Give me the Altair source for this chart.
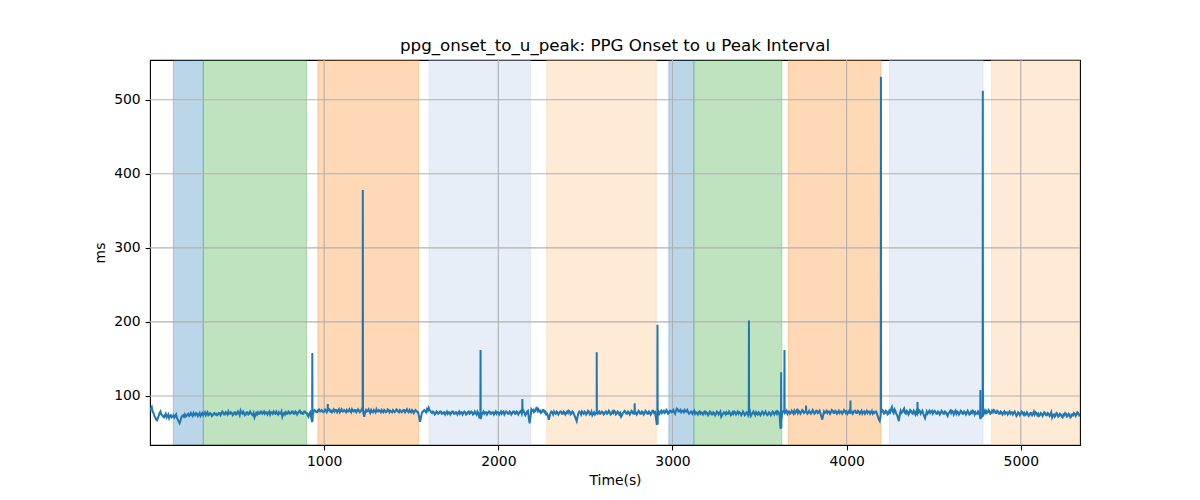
import altair as alt
import pandas as pd

# ---------------- data ----------------
# baseline samples, one every 10 s starting at t = 0 (ms)
base_ms = [
    80, 85, 77, 71, 67, 73, 79, 74, 71, 76, 73, 70, 74, 72, 71, 75, 68, 63, 71, 74,
    75, 73, 76, 74, 75, 77, 74, 76, 75, 73, 77, 76, 74, 78, 75, 76, 74, 77, 76, 75,
    77, 76, 78, 75, 77, 79, 76, 77, 75, 78, 76, 77, 80, 76, 77, 75, 78, 76, 77, 74,
    71, 77, 78, 76, 79, 77, 76, 78, 77, 75, 78, 79, 76, 77, 78, 76, 72, 77, 78, 76,
    78, 77, 79, 76, 78, 77, 80, 78, 76, 79, 77, 72, 78, 66, 79, 80, 78, 82, 79, 80,
    79, 81, 80, 82, 80, 80, 79, 81, 80, 78, 82, 79, 80, 81, 79, 80, 82, 79, 81, 80,
    80, 79, 84, 72, 81, 80, 79, 81, 78, 80, 82, 79, 80, 81, 78, 80, 79, 81, 80, 78,
    80, 79, 81, 78, 80, 79, 81, 80, 79, 81, 78, 80, 79, 80, 78, 65, 76, 79, 80, 82,
    84, 80, 77, 78, 76, 78, 77, 79, 76, 78, 77, 76, 78, 77, 79, 76, 78, 77, 76, 78,
    77, 78, 76, 79, 77, 78, 76, 77, 79, 72, 70, 77, 76, 78, 77, 79, 76, 78, 77, 76,
    78, 77, 76, 79, 77, 78, 76, 78, 77, 79, 76, 78, 77, 80, 78, 77, 76, 80, 63, 82,
    81, 79, 84, 82, 80, 78, 81, 79, 76, 68, 77, 78, 79, 76, 78, 77, 79, 76, 78, 77,
    77, 79, 76, 78, 72, 66, 77, 78, 79, 76, 78, 77, 79, 76, 74, 78, 77, 76, 79, 77,
    78, 76, 79, 77, 78, 76, 77, 79, 76, 78, 77, 74, 78, 79, 76, 78, 77, 79, 76, 78,
    77, 79, 76, 78, 77, 79, 76, 78, 77, 80, 78, 62, 79, 78, 77, 80, 78, 79, 77, 80,
    79, 78, 80, 82, 79, 78, 80, 81, 79, 78, 77, 79, 78, 76, 77, 78, 76, 77, 78, 76,
    77, 76, 78, 75, 77, 76, 78, 77, 72, 76, 77, 78, 76, 77, 75, 76, 78, 77, 76, 77,
    76, 77, 75, 78, 76, 73, 77, 76, 78, 75, 77, 76, 78, 77, 76, 75, 77, 76, 78, 77,
    76, 78, 57, 77, 80, 78, 76, 79, 77, 78, 80, 79, 77, 79, 78, 80, 78, 79, 77, 78,
    78, 79, 77, 80, 78, 76, 68, 79, 78, 77, 79, 78, 80, 77, 79, 78, 77, 79, 78, 80,
    79, 78, 77, 79, 78, 80, 77, 79, 78, 76, 79, 78, 77, 79, 78, 76, 77, 79, 72, 66,
    78, 80, 77, 79, 76, 78, 85, 77, 80, 74, 66, 80, 78, 83, 76, 79, 77, 80, 76, 78,
    79, 77, 80, 78, 76, 70, 79, 78, 77, 80, 78, 79, 76, 78, 77, 79, 76, 78, 73, 78,
    77, 79, 78, 76, 78, 77, 79, 76, 78, 77, 78, 76, 77, 79, 78, 76, 77, 70, 73, 80,
    80, 78, 79, 77, 78, 80, 77, 79, 76, 78, 77, 76, 78, 77, 76, 78, 77, 76, 75, 77,
    76, 78, 77, 75, 76, 74, 77, 76, 75, 77, 76, 74, 76, 75, 77, 74, 76, 75, 71, 75,
    74, 76, 73, 75, 71, 74, 76, 73, 75, 72, 74, 76, 75, 77, 76,
]
# in-between samples, 5 s after each baseline sample (ms)
mid_ms = [
    83, 79, 73, 68, 70, 77, 75, 72, 74, 71, 75, 73, 71, 74, 73, 70, 65, 67, 73, 72,
    72, 75, 73, 77, 73, 75, 77, 73, 77, 75, 74, 78, 76, 74, 77, 73, 76, 75, 74, 77,
    74, 79, 75, 78, 75, 76, 78, 74, 78, 75, 79, 74, 77, 79, 74, 78, 75, 79, 75, 77,
    74, 75, 76, 79, 76, 79, 78, 75, 79, 78, 76, 77, 79, 75, 76, 79, 75, 75, 76, 79,
    76, 79, 76, 79, 75, 79, 77, 76, 79, 77, 74, 76, 72, 75, 81, 78, 81, 79, 81, 78,
    82, 78, 82, 79, 78, 82, 81, 78, 82, 80, 79, 81, 78, 79, 82, 78, 80, 81, 78, 82,
    78, 82, 77, 78, 79, 82, 77, 79, 81, 78, 79, 81, 78, 79, 81, 78, 82, 78, 79, 81,
    78, 82, 79, 81, 78, 81, 78, 82, 78, 79, 81, 77, 81, 78, 72, 70, 79, 81, 78, 80,
    81, 78, 79, 75, 79, 76, 79, 76, 78, 75, 79, 78, 75, 79, 76, 78, 75, 79, 78, 75,
    79, 75, 78, 76, 79, 75, 79, 75, 77, 74, 75, 79, 78, 75, 79, 76, 78, 75, 79, 78,
    75, 79, 78, 75, 79, 76, 79, 75, 79, 76, 79, 75, 79, 76, 80, 74, 79, 70, 72, 80,
    78, 83, 80, 79, 77, 81, 78, 75, 73, 73, 79, 75, 77, 79, 75, 79, 76, 79, 75, 79,
    80, 75, 79, 75, 69, 72, 79, 75, 77, 79, 75, 80, 75, 79, 76, 75, 79, 78, 76, 79,
    75, 79, 76, 80, 75, 79, 80, 75, 79, 75, 72, 77, 80, 76, 79, 75, 80, 76, 79, 75,
    80, 76, 79, 75, 80, 76, 79, 75, 80, 77, 70, 72, 76, 80, 79, 77, 81, 76, 80, 78,
    81, 76, 83, 79, 81, 80, 78, 79, 81, 76, 79, 76, 80, 78, 75, 79, 78, 75, 79, 78,
    74, 79, 75, 78, 74, 79, 75, 79, 74, 78, 75, 76, 79, 74, 78, 79, 75, 79, 78, 74,
    79, 74, 78, 74, 79, 75, 79, 74, 76, 78, 74, 79, 75, 79, 74, 78, 74, 79, 75, 79,
    79, 74, 66, 79, 77, 80, 79, 76, 80, 76, 77, 81, 80, 76, 81, 77, 80, 76, 80, 76,
    81, 76, 80, 77, 80, 72, 74, 77, 80, 79, 76, 81, 77, 80, 76, 80, 79, 76, 81, 77,
    76, 80, 79, 76, 80, 77, 80, 76, 80, 78, 76, 80, 79, 76, 80, 78, 79, 75, 68, 73,
    81, 76, 80, 75, 80, 82, 79, 82, 76, 70, 75, 77, 81, 77, 80, 75, 81, 77, 80, 75,
    76, 81, 76, 80, 73, 75, 76, 80, 79, 76, 80, 76, 79, 75, 80, 76, 79, 75, 77, 80,
    80, 75, 80, 79, 75, 80, 76, 79, 75, 80, 75, 79, 80, 75, 76, 79, 73, 72, 77, 77,
    77, 81, 76, 80, 81, 77, 80, 76, 79, 75, 79, 78, 75, 79, 78, 75, 79, 73, 78, 74,
    79, 75, 74, 78, 73, 77, 74, 79, 78, 74, 73, 77, 73, 78, 74, 77, 73, 78, 74, 72,
    77, 72, 76, 72, 75, 77, 72, 76, 71, 75, 77, 73, 78, 74,
]
base_step_s = 10
mid_offset_s = 5

# isolated spikes (time in s, peak in ms)
spike_t = [932, 1021, 1222, 1898, 2138, 2565, 2783, 2914, 3439, 3624, 3643, 3767, 4022, 4197, 4407, 4768, 4782]
spike_ms = [158, 89, 378, 162, 96, 159, 90, 196, 202, 132, 162, 87, 94, 531, 92, 108, 512]

# shaded condition spans
span_start = [134, 306, 964, 1602, 2278, 2979, 3123, 3666, 4246, 4832]
span_end = [306, 899, 1542, 2184, 2907, 3123, 3628, 4197, 4783, 5340]
span_color = ["#1f77b4", "#2ca02c", "#ff7f0e", "#aec7e8", "#ffbb78",
              "#1f77b4", "#2ca02c", "#ff7f0e", "#aec7e8", "#ffbb78"]
span_alpha = [0.3] * 10

x_ticks = [1000, 2000, 3000, 4000, 5000]
y_ticks = [100, 200, 300, 400, 500]

X_DOMAIN = [0, 5340]
Y_DOMAIN = [33.8, 553.6]

# ---------------- tables ----------------
times = [i * base_step_s for i in range(len(base_ms))]
pts = list(zip(times, base_ms))
pts += [(times[i] + mid_offset_s, v) for i, v in enumerate(mid_ms)]
for t, v in zip(spike_t, spike_ms):
    idx = min(range(len(times)), key=lambda i: abs(times[i] - t))
    b = base_ms[idx]
    pts += [(t - 1, b), (t, v), (t + 1, b)]
pts.sort()
line_df = pd.DataFrame(pts, columns=["t", "ms"])

span_df = pd.DataFrame({"start": span_start, "end": span_end,
                        "color": span_color, "alpha": span_alpha})

xs = alt.Scale(domain=X_DOMAIN, nice=False, zero=False)
ys = alt.Scale(domain=Y_DOMAIN, nice=False, zero=False)

axis_common = dict(
    grid=False, domain=False, tickColor="black", tickSize=4.9, tickWidth=1.1,
    labelPadding=4.9, labelFontSize=13.9, labelColor="black", labelFont="DejaVu Sans",
    titleFontSize=13.9, titleFontWeight="normal", titleColor="black", titleFont="DejaVu Sans",
    format="d",
)
x_axis = alt.Axis(values=x_ticks, title="Time(s)", titlePadding=5, labelFlush=False, **axis_common)
y_axis = alt.Axis(values=y_ticks, title="ms", titlePadding=6, **axis_common)

spans = alt.Chart(span_df).mark_rect(clip=True, strokeWidth=1).encode(
    x=alt.X("start:Q", scale=xs, axis=x_axis),
    x2="end:Q",
    fill=alt.Fill("color:N", scale=None),
    stroke=alt.Stroke("color:N", scale=None),
    fillOpacity=alt.FillOpacity("alpha:Q", scale=None),
    strokeOpacity=alt.StrokeOpacity("alpha:Q", scale=None),
)

vgrid = alt.Chart(pd.DataFrame({"x": x_ticks})).mark_rule(
    color="#b0b0b0", strokeWidth=1.1
).encode(x=alt.X("x:Q", scale=xs, axis=x_axis))

hgrid = alt.Chart(pd.DataFrame({"y": y_ticks})).mark_rule(
    color="#b0b0b0", strokeWidth=1.1
).encode(y=alt.Y("y:Q", scale=ys, axis=y_axis))

line = alt.Chart(line_df).mark_line(color="#1f77b4", strokeWidth=2, clip=True).encode(
    x=alt.X("t:Q", scale=xs, axis=x_axis),
    y=alt.Y("ms:Q", scale=ys, axis=y_axis),
)

chart = alt.layer(spans, vgrid, hgrid, line).properties(
    width=930,
    height=385,
    autosize=alt.AutoSizeParams(type="none"),
    padding={"left": 142, "top": 52, "right": 112, "bottom": 47},
    title=alt.TitleParams(
        "ppg_onset_to_u_peak: PPG Onset to u Peak Interval",
        font="DejaVu Sans", fontSize=16.7, fontWeight="normal", color="black",
        anchor="middle", frame="group", offset=5,
    ),
).configure(background="white").configure_view(stroke="black", strokeWidth=1.1)

chart.save("out.html", embed_options={"renderer": "svg", "actions": False})
